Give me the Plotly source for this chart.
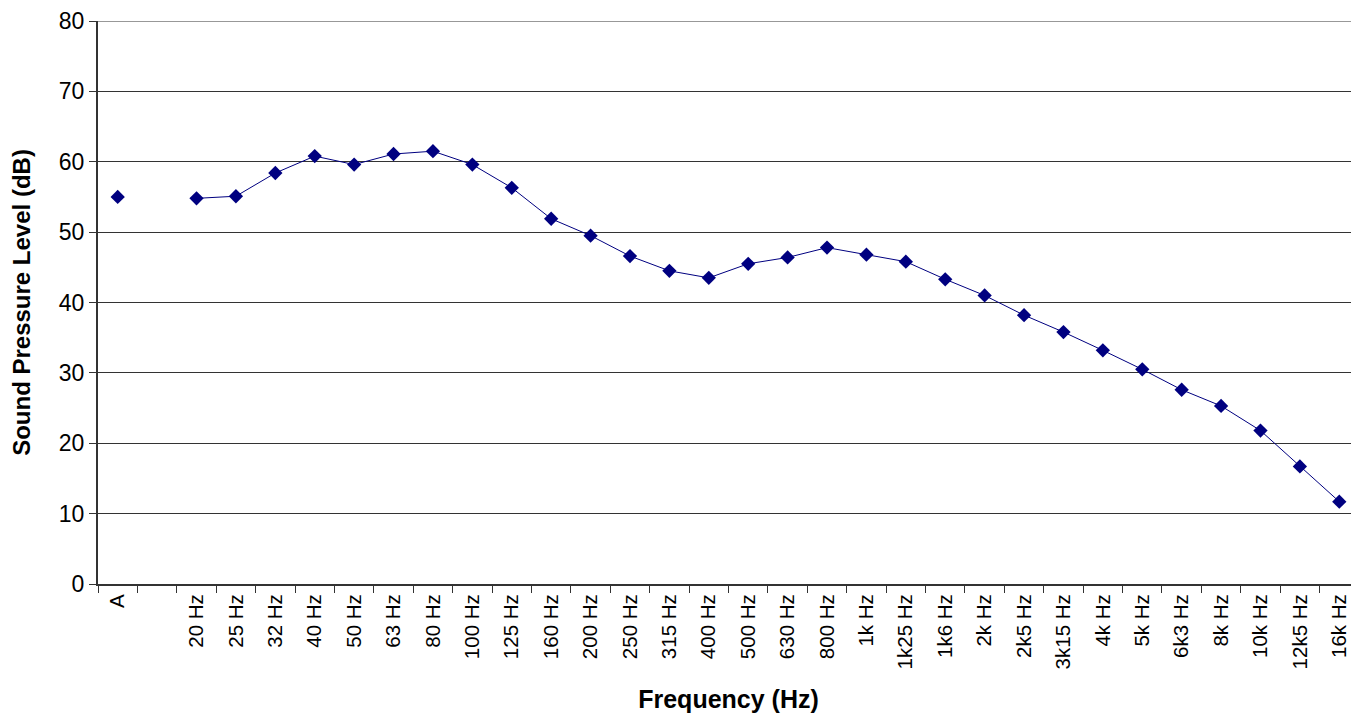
import plotly.graph_objects as go

categories = ["A", " ", "20 Hz", "25 Hz", "32 Hz", "40 Hz", "50 Hz", "63 Hz", "80 Hz",
              "100 Hz", "125 Hz", "160 Hz", "200 Hz", "250 Hz", "315 Hz", "400 Hz",
              "500 Hz", "630 Hz", "800 Hz", "1k Hz", "1k25 Hz", "1k6 Hz", "2k Hz",
              "2k5 Hz", "3k15 Hz", "4k Hz", "5k Hz", "6k3 Hz", "8k Hz", "10k Hz",
              "12k5 Hz", "16k Hz"]
spl_db = [55.0, None, 54.8, 55.1, 58.4, 60.8, 59.6, 61.1, 61.5,
          59.6, 56.3, 51.9, 49.5, 46.6, 44.5, 43.5,
          45.5, 46.4, 47.8, 46.8, 45.8, 43.3, 41.0,
          38.2, 35.8, 33.2, 30.5, 27.6, 25.3, 21.8,
          16.7, 11.7]
y_ticks = [0, 10, 20, 30, 40, 50, 60, 70, 80]

fig = go.Figure()
fig.add_trace(go.Scatter(
    x=categories, y=spl_db, mode="lines+markers",
    connectgaps=False,
    line=dict(color="#000080", width=1),
    marker=dict(symbol="diamond", size=11, color="#000080"),
    showlegend=False,
))

# top gridline (plotly suppresses the gridline at the range edge)
fig.add_shape(type="line", xref="paper", yref="y", x0=0, x1=1,
              y0=y_ticks[-1], y1=y_ticks[-1], line=dict(color="#333", width=1),
              layer="below")

font_family = "Liberation Sans, Arial, sans-serif"
fig.update_layout(
    width=1351, height=705,
    margin=dict(l=90, r=0, t=10, b=129),
    paper_bgcolor="white", plot_bgcolor="white",
    font=dict(family=font_family, color="black"),
)
fig.update_xaxes(
    type="category", categoryorder="array", categoryarray=categories,
    tickson="boundaries", ticks="outside", ticklen=7, tickcolor="#333",
    tickangle=-90, tickfont=dict(size=20.5, color="black"),
    showline=True, linecolor="#333", linewidth=2, showgrid=False,
    title=dict(text="<b>Frequency (Hz)</b>", font=dict(size=25), standoff=24),
    range=[-0.5, 31.5],
)
fig.update_yaxes(
    range=[0, 80], tickvals=y_ticks,
    ticks="outside", ticklen=7, tickcolor="#333",
    tickfont=dict(size=23, color="black"), ticklabeloverflow="allow",
    showline=True, linecolor="#333", linewidth=2,
    showgrid=True, gridcolor="#333", gridwidth=1, zeroline=False,
    title=dict(text="<b>Sound Pressure Level (dB)</b>", font=dict(size=24), standoff=22),
)
fig.write_html("out.html")
